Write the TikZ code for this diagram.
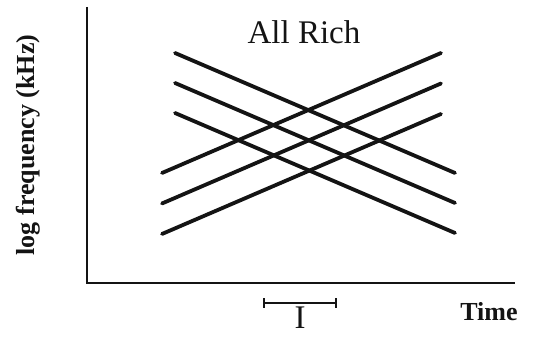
\documentclass[tikz,border=0pt]{standalone}
\usepackage{fontspec}
\setmainfont{Liberation Serif}
\usepackage{xcolor}
\usetikzlibrary{calc,positioning}
\definecolor{inkblack}{RGB}{20,20,20}
\tikzset{
  axisline/.style={draw=inkblack,line width=2.8pt},
  sweep/.style={draw=inkblack,line width=3.8pt,line cap=round},
  intervalbar/.style={draw=inkblack,line width=2.4pt},
  titlelabel/.style={font=\fontsize{33}{35}\selectfont,text=inkblack},
  axislabel/.style={font=\fontsize{26}{28}\selectfont\bfseries,text=inkblack}
}

\begin{document}
\begin{tikzpicture}[x=1pt,y=1pt]
  \useasboundingbox (0,0) rectangle (542,344);
  % axes
  \coordinate (ytop) at (87,337);
  \coordinate (origin) at (87,61);
  \coordinate (xend) at (515,61);
  \draw[axisline] (ytop) -- (origin) -- (xend);
  % falling and rising sweeps
  \foreach \k in {0,1,2} {
    \draw[sweep] (175,291-30*\k) -- (455,171-30*\k);
    \draw[sweep] (162,171-30.5*\k) -- (441,291-30.5*\k);
  }
  % interval marker
  \coordinate (ileft) at (264,41);
  \coordinate (iright) at (336,41);
  \draw[intervalbar] (ileft) -- (iright);
  \draw[intervalbar] ($(ileft)+(0,-5)$) -- ($(ileft)+(0,5)$);
  \draw[intervalbar] ($(iright)+(0,-5)$) -- ($(iright)+(0,5)$);
  \node[titlelabel] (title) at (304,312) {All Rich};
  \node[axislabel,rotate=90] (ylabel) at (28,199) {log frequency (kHz)};
  \node[axislabel] (xlabel) at (489,32) {Time};
  \node[titlelabel,below=0pt of $(ileft)!0.5!(iright)$] (ilabel) {I};
\end{tikzpicture}
\end{document}
